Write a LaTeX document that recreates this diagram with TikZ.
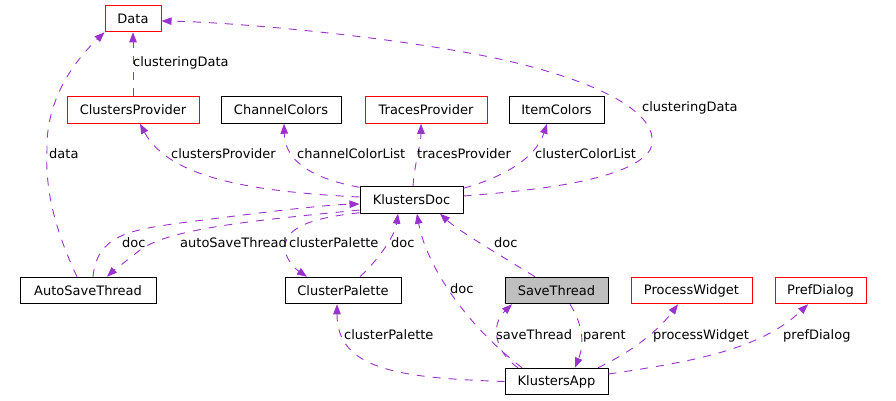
\documentclass[tikz,border=0pt]{standalone}
\usepackage{fontspec}
\setmainfont{DejaVu Sans}
\usetikzlibrary{arrows.meta}
\definecolor{edgec}{HTML}{9A32CD}
\definecolor{boxgray}{HTML}{BFBFBF}
\definecolor{boxred}{HTML}{FF0000}
\begin{document}
\begin{tikzpicture}[x=1pt,y=-1pt,
  basebox/.style={line width=1pt, minimum height=26.5pt, inner sep=0pt, font=\fontsize{13}{15}\selectfont},
  box/.style={basebox, draw=black},
  redbox/.style={basebox, draw=boxred},
  graybox/.style={basebox, draw=black, fill=boxgray},
  rel/.style={draw=edgec, line width=0.9pt, dash pattern=on 8pt off 8pt, -{Triangle[length=10pt,width=7.5pt]}},
  lab/.style={anchor=west, inner sep=0pt, font=\fontsize{13}{15}\selectfont, text height=9.5pt, text depth=2.5pt}]
\useasboundingbox[fill=white] (0,0) rectangle (896,400);
% nodes
\node[redbox, minimum width=56pt] (data) at (133,18.5) {Data};
\node[redbox, minimum width=132pt] (cprov) at (133,110) {ClustersProvider};
\node[box, minimum width=120pt] (chcol) at (281,110) {ChannelColors};
\node[redbox, minimum width=122pt] (tprov) at (426,110) {TracesProvider};
\node[box, minimum width=95pt] (icol) at (556.5,110) {ItemColors};
\node[box, minimum width=103pt] (kdoc) at (411.5,200) {KlustersDoc};
\node[box, minimum width=136pt] (auto) at (88,290.5) {AutoSaveThread};
\node[box, minimum width=116pt] (cpal) at (343,290.5) {ClusterPalette};
\node[graybox, minimum width=103pt] (save) at (556.5,290.5) {SaveThread};
\node[redbox, minimum width=121pt] (proc) at (691.5,290.5) {ProcessWidget};
\node[redbox, minimum width=91pt] (pref) at (820.5,290.5) {PrefDialog};
\node[box, minimum width=103pt] (kapp) at (556.5,381.5) {KlustersApp};
% edges
\draw[rel] (cprov.north) -- (data.south);
\draw[rel] ([yshift=4pt]kdoc.east) .. controls (540,190) and (630,180) .. (650,150)
   .. controls (665,115) and (600,80) .. (490,57) .. controls (380,35) and (230,22) .. ([yshift=-2.5pt]data.east);
\draw[rel] ([xshift=-11pt]auto.north) .. controls (55,230) and (45,190) .. (47,150)
   .. controls (46,115) and (60,75) .. (data.south west);
\draw[rel] ([yshift=3pt]kdoc.west) .. controls (260,192) and (170,180) .. ([xshift=7pt]cprov.south);
\draw[rel] ([yshift=-1pt]kdoc.north west) .. controls (320,180) and (285,165) .. ([xshift=3pt]chcol.south);
\draw[rel] ([xshift=1.5pt]kdoc.north) .. controls (415,160) and (421,145) .. ([xshift=-5pt]tprov.south);
\draw[rel] ([yshift=-2pt]kdoc.north east) .. controls (500,178) and (535,160) .. ([xshift=-9.5pt]icol.south);
\draw[rel] ([xshift=5pt]auto.north) .. controls (97,235) and (130,230) .. (180,223)
   .. controls (250,214) and (320,205) .. ([yshift=-4pt]kdoc.west);
\draw[rel] ([yshift=-10pt]kdoc.west) .. controls (260,220) and (170,228) .. (140,250)
   .. controls (125,262) and (112,272) .. ([xshift=19pt]auto.north);
\draw[rel] ([yshift=1pt]kdoc.south west) .. controls (310,218) and (283,228) .. (285,250)
   .. controls (287,262) and (297,270) .. ([xshift=-36pt]cpal.north);
\draw[rel] ([xshift=17pt]cpal.north) .. controls (380,258) and (395,235) .. ([xshift=-13.5pt]kdoc.south);
\draw[rel] ([xshift=-34.5pt]kapp.north) .. controls (460,320) and (425,260) .. ([xshift=5.5pt]kdoc.south);
\draw[rel] ([xshift=-21.5pt]save.north) .. controls (500,255) and (460,232) .. ([xshift=28.5pt]kdoc.south);
\draw[rel] ([xshift=-38.5pt]kapp.north) .. controls (495,352) and (490,325) .. ([xshift=-44.5pt]save.south);
\draw[rel] ([xshift=13.5pt]save.south) .. controls (580,320) and (586,340) .. ([xshift=18.5pt]kapp.north);
\draw[rel] ([xshift=41.5pt]kapp.north) .. controls (625,355) and (655,335) .. ([xshift=-13.5pt]proc.south);
\draw[rel] ([yshift=7.5pt]kapp.east) .. controls (690,362) and (760,350) .. ([xshift=-12.5pt]pref.south);
\draw[rel] (kapp.west) .. controls (400,378) and (337,370) .. ([xshift=-6pt]cpal.south);
% labels
\node[lab] (l1) at (133,63) {clusteringData};
\node[lab] (l2) at (642,108) {clusteringData};
\node[lab] (l3) at (49,155) {data};
\node[lab] (l4) at (171,155) {clustersProvider};
\node[lab] (l5) at (297,155) {channelColorList};
\node[lab] (l6) at (417,155) {tracesProvider};
\node[lab] (l7) at (535,155) {clusterColorList};
\node[lab] (l8) at (122,244) {doc};
\node[lab] (l9) at (180,244) {autoSaveThread};
\node[lab] (l10) at (289,244) {clusterPalette};
\node[lab] (l11) at (391,244) {doc};
\node[lab] (l12) at (494,244) {doc};
\node[lab] (l13) at (450,290) {doc};
\node[lab] (l14) at (344,336) {clusterPalette};
\node[lab] (l15) at (496,336) {saveThread};
\node[lab] (l16) at (583,336) {parent};
\node[lab] (l17) at (653,336) {processWidget};
\node[lab] (l18) at (783,336) {prefDialog};
\end{tikzpicture}
\end{document}
